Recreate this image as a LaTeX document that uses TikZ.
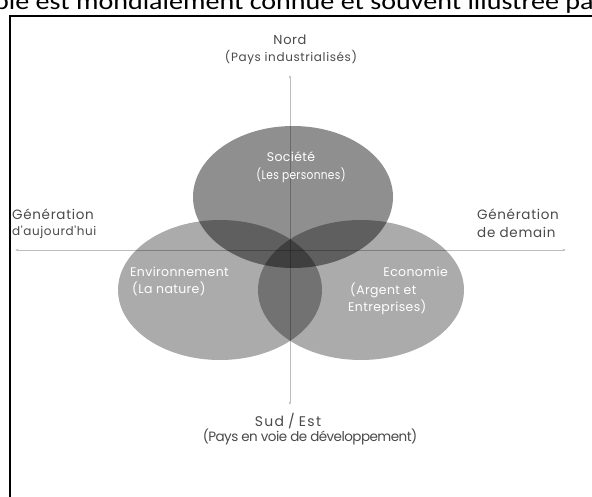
\documentclass[tikz,border=0pt]{standalone}
\usepackage{fontspec}
\setmainfont{Poppins}
\newfontfamily\topfont{Carlito}
\newfontfamily\lblfont[LetterSpace=5]{Poppins}
\newfontfamily\wideflont[LetterSpace=10]{Poppins}
\newfontfamily\inlblfont[LetterSpace=3]{Poppins}
\newfontfamily\condfont[LetterSpace=-4]{Poppins}
\usetikzlibrary{arrows.meta}
\definecolor{labelgray}{HTML}{4A4A4A}
\definecolor{axisgray}{HTML}{BDBDBD}
\begin{document}
\begin{tikzpicture}[x=1pt,y=-1pt,
  axis/.style={draw=axisgray,line width=0.5pt,{Latex[length=3pt,width=2.5pt]}-{Latex[length=3pt,width=2.5pt]}},
  sidecirc/.style={fill=black,fill opacity=0.33},
  topcirc/.style={fill=black,fill opacity=0.44},
  outlbl/.style={text=labelgray,font=\lblfont\fontsize{12}{17}\selectfont,inner sep=0pt},
  genlbl/.style={outlbl,font=\lblfont\fontsize{13.5}{17}\selectfont},
  inlbl/.style={text=white,font=\inlblfont\fontsize{12.5}{16}\selectfont,inner sep=0pt},
  frameline/.style={line width=1.6pt,black}]
\useasboundingbox (0,0) rectangle (592,497);
\clip (0,0) rectangle (592,497);
\fill[white] (0,0) rectangle (592,497);
% top cut-off text
\node[anchor=base west,inner sep=0pt,font=\topfont\fontsize{24}{26}\selectfont] (toptext) at (-6,10) {\scalebox{1.17}[1]{ble est mondialement connue et souvent illustrée pa}};
% frame
\coordinate (fa) at (10,497);
\coordinate (fb) at (10,16);
\coordinate (fc) at (592,16);
\draw[frameline] (fa) -- (fb) -- (fc);
% axes
\coordinate (xl) at (15,250);
\coordinate (xr) at (566,250);
\coordinate (yt) at (290,75);
\coordinate (yb) at (290,405);
\draw[axis] (xl) -- (xr);
\draw[axis] (yt) -- (yb);
% circles
\fill[sidecirc] (220,290) ellipse [x radius=102pt, y radius=70pt];
\fill[sidecirc] (361,290) ellipse [x radius=103pt, y radius=70pt];
\fill[topcirc] (293,197) ellipse [x radius=100pt, y radius=71pt];
% outer labels
\node[outlbl,font=\lblfont\fontsize{13}{15}\selectfont] (nord) at (290,40) {Nord};
\node[outlbl] (paysind) at (291,57) {(Pays industrialisés)};
\node[genlbl,anchor=west] (genl1) at (12,214) {Génération};
\node[outlbl,anchor=west] (genl2) at (12,232) {d'aujourd'hui};
\node[genlbl,anchor=west] (genr1) at (477,214) {Génération};
\node[genlbl,anchor=west] (genr2) at (477,232) {de demain};
\node[outlbl,font=\wideflont\fontsize{14}{15}\selectfont] (sud) at (288,421) {Sud\hspace{4pt}/\hspace{4pt}Est};
\node[outlbl,font=\condfont\fontsize{13.5}{15}\selectfont] (pays) at (310,437) {(Pays en voie de développement)};
% inner labels
\node[inlbl] (soc) at (291,157) {Société};
\node[inlbl] (socb) at (301,175) {\scalebox{0.85}[1]{(Les personnes)}};
\node[inlbl,anchor=west] (env) at (130,272) {Environnement};
\node[inlbl,anchor=west] (envb) at (132,289) {(La nature)};
\node[inlbl,anchor=east] (eco) at (448,272) {Economie};
\node[inlbl,anchor=west] (ecob) at (350,290) {(Argent et};
\node[inlbl,anchor=west] (ecoc) at (348,307) {Entreprises)};
\end{tikzpicture}
\end{document}
